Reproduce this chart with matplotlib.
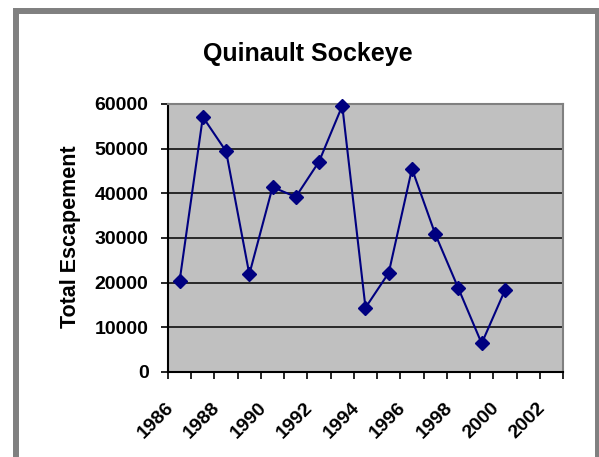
import matplotlib
matplotlib.use('Agg')
import matplotlib.pyplot as plt
from matplotlib.patches import Rectangle
from matplotlib.ticker import FixedLocator, NullFormatter
from matplotlib.transforms import ScaledTranslation

years = list(range(1986, 2001))
escapement = [20400, 57100, 49400, 21900, 41400, 39200, 47100, 59600,
              14400, 22200, 45500, 30900, 18700, 6400, 18300]
label_years = list(range(1986, 2003, 2))
y_ticks = list(range(0, 60001, 10000))

plt.rcParams['font.family'] = ['Liberation Sans', 'DejaVu Sans']
plt.rcParams['font.weight'] = 'bold'

W, H = 599, 457
fig = plt.figure(figsize=(W / 100, H / 100), dpi=100)

# grey frame round the chart (bottom edge runs off the picture)
frame = Rectangle((16 / W, -0.2), (598 - 16) / W, 1 - 11 / H + 0.2,
                  transform=fig.transFigure, facecolor='white',
                  edgecolor='#808080', lw=4.3, zorder=0)
fig.add_artist(frame)

ax = fig.add_axes([168 / W, 1 - 372 / H, (563 - 168) / W, (372 - 104) / H])
ax.set_facecolor('#C0C0C0')
ax.plot(years, escapement, color='#000080', lw=1.5, marker='D', ms=7,
        mfc='#000080', mec='#000080', clip_on=False, zorder=3)

ax.set_xlim(1985.5, 2002.5)
ax.set_ylim(0, 60000)
ax.set_yticks(y_ticks)
ax.set_yticklabels([str(v) for v in y_ticks], fontsize=14, weight='bold')
ax.yaxis.grid(True, color='black', lw=1.1)
ax.set_axisbelow(True)

# tick marks between categories, labels on every other category
ax.xaxis.set_major_locator(FixedLocator([1985.5 + i for i in range(18)]))
ax.xaxis.set_major_formatter(NullFormatter())
ax.set_xticks(label_years, minor=True)
ax.set_xticklabels([str(y) for y in label_years], minor=True,
                   fontsize=14, weight='bold')
ax.tick_params(axis='x', which='minor', length=0, pad=26)
ax.tick_params(axis='x', which='major', length=5, width=1.2, color='black')
ax.tick_params(axis='y', length=5, width=1.2, color='black', pad=9)
shift = ScaledTranslation(-5.5 / 100, 0, fig.dpi_scale_trans)
for lbl in ax.get_xticklabels(minor=True):
    lbl.set(rotation=45, ha='right', va='baseline', rotation_mode='anchor')
    lbl.set_transform(lbl.get_transform() + shift)

for s in ['left', 'bottom']:
    ax.spines[s].set_color('black')
    ax.spines[s].set_linewidth(1.5)
for s in ['top', 'right']:
    ax.spines[s].set_color('#808080')
    ax.spines[s].set_linewidth(1.5)

fig.text(307.5 / W, 1 - 61 / H, 'Quinault Sockeye', ha='center',
         va='baseline', fontsize=18, weight='bold')
fig.text(70.5 / W, 1 - 237 / H, 'Total Escapement', ha='center', va='center',
         rotation=90, fontsize=15.5, weight='bold')

fig.savefig('out.png', dpi=100)
